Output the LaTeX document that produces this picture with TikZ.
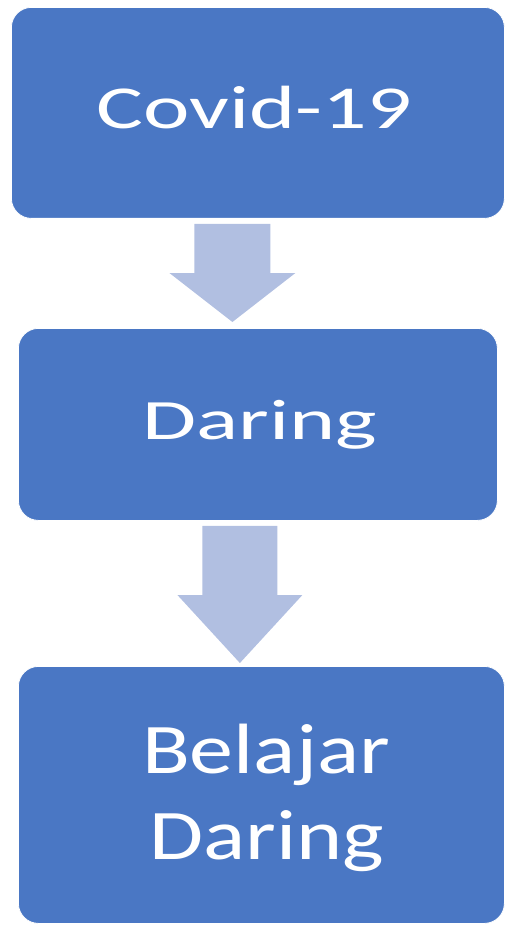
\documentclass[tikz,border=0pt]{standalone}
\usepackage{fontspec}
\setmainfont{Carlito}
\usetikzlibrary{calc}
\definecolor{boxblue}{HTML}{4A77C4}
\definecolor{arrowblue}{HTML}{B1BFE1}
\begin{document}
\begin{tikzpicture}[x=1pt,y=-1pt,
  box/.style={fill=boxblue, draw=white, line width=0.8pt, rounded corners=20pt, inner sep=0pt, anchor=north west},
  blockarrow/.style={fill=arrowblue, draw=none},
  lbl/.style={anchor=base, inner sep=0pt, text=white, font=\fontsize{20}{24}\selectfont}]
\useasboundingbox (0,0) rectangle (505,925);
% boxes
\node[box, minimum width=493pt, minimum height=211pt] (b1) at (11,7) {};
\node[box, minimum width=479pt, minimum height=192pt] (b2) at (18,328) {};
\node[box, minimum width=486pt, minimum height=257pt] (b3) at (18,666) {};
% arrow 1
\coordinate (a1top) at ($(b1.south)+(-25.5,5)$);
\coordinate (a1tip) at ($(b2.north)+(-25.5,-6)$);
\fill[blockarrow] ($(a1top)+(-38,0)$) -- ($(a1top)+(38,0)$) -- ($(a1tip)+(38,-49)$) -- ($(a1tip)+(63,-49)$) -- (a1tip) -- ($(a1tip)+(-63,-49)$) -- ($(a1tip)+(-38,-49)$) -- cycle;
% arrow 2
\coordinate (a2top) at ($(b2.south)+(-18,5)$);
\coordinate (a2tip) at ($(b3.north)+(-21.5,-3)$);
\fill[blockarrow] ($(a2top)+(-37.5,0)$) -- ($(a2top)+(37.5,0)$) -- ($(a2tip)+(37.5,-68)$) -- ($(a2tip)+(62.5,-68)$) -- (a2tip) -- ($(a2tip)+(-62.5,-68)$) -- ($(a2tip)+(-37.5,-68)$) -- cycle;
% labels
\node[lbl] (t1) at (254.5,129) {\scalebox{4.4}[3.05]{Covid-19}};
\node[lbl] (t2) at (260,439) {\scalebox{4.4}[2.85]{Daring}};
\node[lbl] (t3a) at (266,773) {\scalebox{4.4}[3.56]{Belajar}};
\node[lbl] (t3b) at (266.5,859) {\scalebox{4.4}[3.56]{Daring}};
\end{tikzpicture}
\end{document}
